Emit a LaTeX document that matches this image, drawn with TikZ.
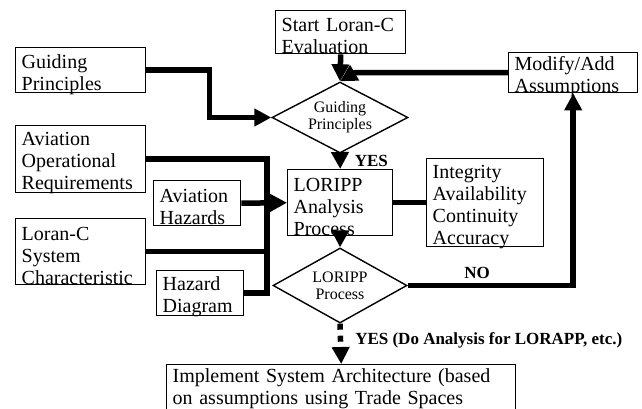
\documentclass[tikz,border=0pt]{standalone}
\usepackage{fontspec}
\setmainfont{Liberation Serif}
\usetikzlibrary{arrows.meta,shapes.geometric,calc}
\begin{document}
\begin{tikzpicture}[x=1pt,y=-1pt,
    plainbox/.style={draw,line width=1.4pt,anchor=north west,inner xsep=6pt,inner ysep=0pt,
      align=left,font=\fontsize{20}{22}\selectfont},
    box/.style={plainbox,execute at end node={\endgraf\vspace*{-8pt}}},
    decide/.style={draw,line width=1.4pt,diamond,aspect=1.9,inner sep=0pt,
      align=center,font=\fontsize{16}{17}\selectfont},
    heavy/.style={line width=5.5pt},
    flow/.style={heavy,-{Triangle[length=17pt,width=17pt]}},
    answer/.style={font=\fontsize{17}{19}\selectfont\bfseries,inner sep=2pt}]
      \useasboundingbox (0,0) rectangle (642,408);

      \node[box,text width=118pt,minimum height=43pt] (start) at (275,10) {Start Loran-C\\Evaluation};
      \node[box,text width=117pt,minimum height=40pt] (mod) at (508,52) {Modify/Add\\Assumptions};
      \node[box,text width=118pt,minimum height=45pt] (gpbox) at (15,47) {Guiding\\Principles};
      \node[box,text width=118pt,minimum height=67pt] (avreq) at (15,125) {Aviation\\Operational\\Requirements};
      \node[box,text width=118pt,minimum height=66pt] (lcsys) at (15,218) {Loran-C\\System\\Characteristic};
      \node[box,text width=75pt,minimum height=45pt] (avhaz) at (153,180) {Aviation\\Hazards};
      \node[box,text width=75pt,minimum height=45pt] (hazdia) at (156,270) {Hazard\\Diagram};
      \node[box,text width=93pt,minimum height=66pt] (loripp) at (287,169) {LORIPP\\Analysis\\Process};
      \node[box,text width=105pt,minimum height=88pt] (integ) at (426,158) {Integrity\\Availability\\Continuity\\Accuracy};
      \node[plainbox,text width=337pt,inner ysep=4pt] (impl) at (166,364) {Implement System Architecture (based\\on assumptions using Trade Spaces};

      \node[decide,minimum width=136pt,minimum height=71pt] (gp) at (340,117.5) {Guiding\\Principles};
      \node[decide,minimum width=134pt,minimum height=75pt] (lp) at (340,285.5) {LORIPP\\Process};

      \coordinate (bus) at (267,0);
      \coordinate (mj) at ($(start.south |- mod.west)+(14,0)$);

      \draw[flow] (start.south) -- (gp.north);
      \draw[flow] (mod.west) -- (mj) -- (gp.north);
      \draw[flow] (gpbox.east) -- ++(63,0) |- (gp.west);
      \draw[flow] (gp.south) -- (loripp.north) node[answer,midway,right=10pt] {YES};

      \draw[heavy] (avreq.east) -- (avreq.east -| bus) -- (hazdia.east -| bus) -- (hazdia.east);
      \draw[heavy] (lcsys.east) -- (lcsys.east -| bus);
      \draw[flow] (avhaz.east) -- (loripp.west);
      \draw[heavy] (loripp.east) -- (integ.west);

      \draw[flow] (loripp.south) -- (lp.north);
      \draw[flow] (lp.east) -| (mod.south) node[answer,pos=0.21,above=2pt] {NO};
      \draw[flow,dash pattern=on 6pt off 6pt] (lp.south) -- (impl.north)
        node[answer,pos=0.42,right=10pt] {YES (Do Analysis for LORAPP, etc.)};
    \end{tikzpicture}
\end{document}
